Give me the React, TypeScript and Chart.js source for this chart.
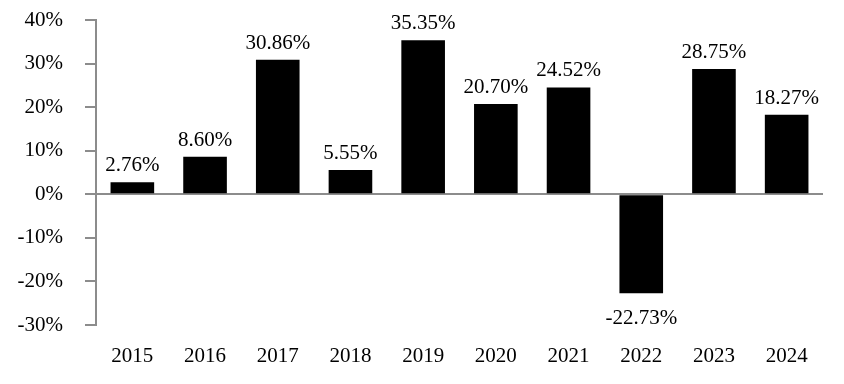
import React, { useEffect, useRef } from "react";
import { Chart, registerables } from "chart.js";

Chart.register(...registerables);

const years = ["2015", "2016", "2017", "2018", "2019", "2020", "2021", "2022", "2023", "2024"];
const returns = [2.76, 8.6, 30.86, 5.55, 35.35, 20.7, 24.52, -22.73, 28.75, 18.27];
const yMin = -30;
const yMax = 40;
const yStep = 10;

const FONT = "'Liberation Serif', 'Times New Roman', serif";
const AXIS = "#8c8c8c";

const labelPlugin = {
  id: "valueLabels",
  afterDatasetsDraw(chart: any) {
    const ctx = chart.ctx;
    const meta = chart.getDatasetMeta(0);
    ctx.save();
    ctx.font = `21px ${FONT}`;
    ctx.fillStyle = "#000";
    ctx.textAlign = "center";
    meta.data.forEach((el: any, i: number) => {
      const v = returns[i];
      const txt = v.toFixed(2) + "%";
      if (v >= 0) {
        ctx.textBaseline = "alphabetic";
        ctx.fillText(txt, el.x, el.y - 11);
      } else {
        ctx.textBaseline = "top";
        ctx.fillText(txt, el.x, el.y + 15);
      }
    });
    ctx.restore();
  },
};

export default function App() {
  const ref = useRef<HTMLCanvasElement | null>(null);
  useEffect(() => {
    document.body.style.margin = "0";
    const chart = new Chart(ref.current!, {
      type: "bar",
      data: {
        labels: years,
        datasets: [
          {
            data: returns,
            backgroundColor: "#000",
            borderWidth: 0,
            barPercentage: 0.6,
            categoryPercentage: 1,
          },
        ],
      },
      options: {
        animation: false,
        responsive: false,
        maintainAspectRatio: false,
        layout: { padding: { top: 20, right: 21, bottom: 0, left: 0 } },
        plugins: { legend: { display: false }, tooltip: { enabled: false } },
        scales: {
          x: {
            grid: { display: false, drawTicks: false },
            border: { display: false },
            ticks: { color: "#000", font: { family: FONT, size: 21 }, padding: 19, maxRotation: 0 },
            afterFit: (scale: any) => {
              scale.height = 59;
              scale.paddingLeft = 0;
              scale.paddingRight = 0;
            },
          },
          y: {
            min: yMin,
            max: yMax,
            afterFit: (scale: any) => {
              scale.width = 96;
              scale.paddingTop = 0;
              scale.paddingBottom = 0;
            },
            grid: {
              color: (c: any) => (c.tick && c.tick.value === 0 ? AXIS : "transparent"),
              lineWidth: 2,
              tickColor: AXIS,
              tickLength: 11,
              drawTicks: true,
            },
            border: { display: true, color: AXIS, width: 2 },
            ticks: {
              stepSize: yStep,
              color: "#000",
              font: { family: FONT, size: 21 },
              padding: 22,
              callback: (v: any) => v + "%",
            },
          },
        },
      },
      plugins: [labelPlugin],
    });
    return () => chart.destroy();
  }, []);
  return (
    <div style={{ width: 844, height: 384, position: "relative" }}>
      <canvas ref={ref} width={844} height={384} style={{ width: 844, height: 384 }} />
    </div>
  );
}
